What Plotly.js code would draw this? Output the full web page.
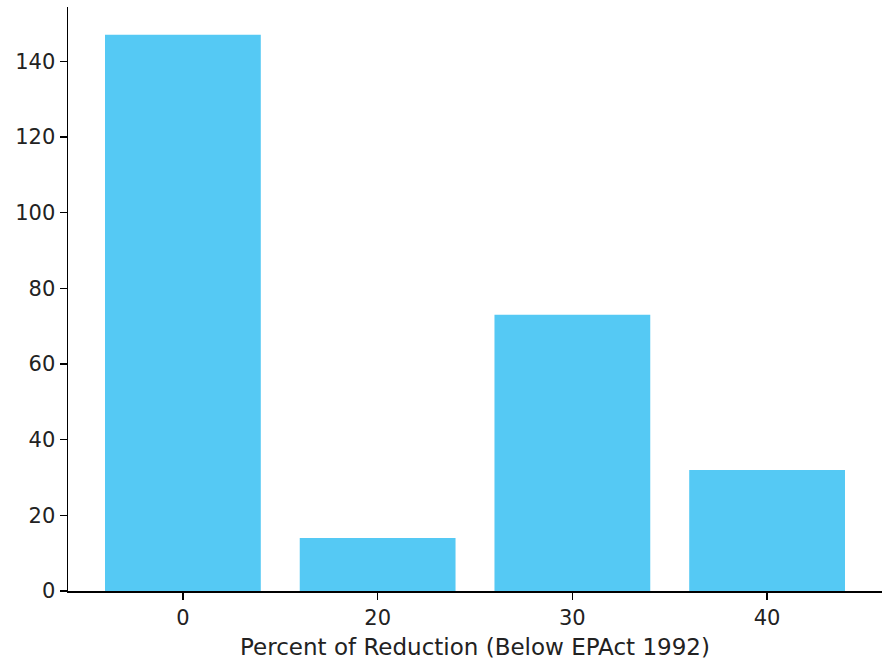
<!DOCTYPE html>
<html>
<head>
<meta charset="utf-8">
<script src="https://cdn.plot.ly/plotly-3.0.1.min.js"></script>
<style>html,body{margin:0;padding:0;background:#fff;}#chart{width:883px;height:662px;}</style>
</head>
<body>
<div id="chart"></div>
<script>
const categories = ["0", "20", "30", "40"];
const counts = [147, 14, 73, 32];
const yTicks = [0, 20, 40, 60, 80, 100, 120, 140];
const xLabel = "Percent of Reduction (Below EPAct 1992)";

const trace = {
  type: "bar",
  x: categories,
  y: counts,
  marker: {color: "#55c9f4", line: {width: 0}},
  hoverinfo: "x+y"
};

const tickFont = {family: "DejaVu Sans, sans-serif", size: 21, color: "#222"};
const labelFont = {family: "DejaVu Sans, sans-serif", size: 23, color: "#222"};

const layout = {
  width: 883, height: 662,
  margin: {l: 68, r: 1, t: 7, b: 71},
  paper_bgcolor: "#fff", plot_bgcolor: "#fff",
  font: tickFont,
  bargap: 0.2,
  showlegend: false,
  xaxis: {
    type: "category",
    range: [-0.59, 3.59],
    showgrid: false, zeroline: false,
    showline: true, linecolor: "#000", linewidth: 1.5,
    ticks: "outside", ticklen: 7, tickwidth: 1.5, tickcolor: "#000",
    tickfont: tickFont,
    title: {text: xLabel, font: labelFont, standoff: 10}
  },
  yaxis: {
    range: [0, 154.35],
    tickvals: yTicks,
    showgrid: false, zeroline: false,
    showline: true, linecolor: "#000", linewidth: 1.5,
    ticks: "outside", ticklen: 7, tickwidth: 1.5, tickcolor: "#000",
    tickfont: tickFont
  }
};

Plotly.newPlot("chart", [trace], layout, {displayModeBar: false, staticPlot: true});
</script>
</body>
</html>
